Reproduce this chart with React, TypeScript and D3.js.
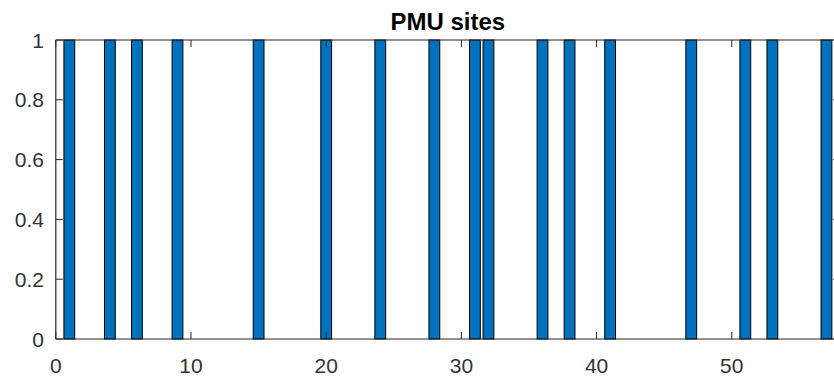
import React from "react";
import * as d3 from "d3";

const pmuBuses: number[] = [1, 4, 6, 9, 15, 20, 24, 28, 31, 32, 36, 38, 41, 47, 51, 53, 57];
const pmuValues: number[] = [1, 1, 1, 1, 1, 1, 1, 1, 1, 1, 1, 1, 1, 1, 1, 1, 1];
const xTicks: number[] = [0, 10, 20, 30, 40, 50];
const yTicks: number[] = [0, 0.2, 0.4, 0.6, 0.8, 1];
const yTickLabels: string[] = ["0", "0.2", "0.4", "0.6", "0.8", "1"];
const title = "PMU sites";

const W = 834;
const H = 378;
const left = 55.8;
const right = 55.8 + 58 * 13.52;
const top = 40;
const bottom = 339;

export default function App() {
  const x = d3.scaleLinear().domain([0, 58]).range([left, right]);
  const y = d3.scaleLinear().domain([0, 1]).range([bottom, top]);
  const bw = (x(1) - x(0)) * 0.8;
  const tickLen = 7;
  const axisColor = "#262626";
  const labelColor = "#333333";
  const font = "'Liberation Sans', Arial, Helvetica, sans-serif";
  return (
    <svg
      width={W}
      height={H}
      style={{ position: "absolute", left: 0, top: 0, background: "#fff" }}
      fontFamily={font}
    >
      <defs>
        <clipPath id="plot">
          <rect x={left} y={top - 1} width={right - left} height={bottom - top + 2} />
        </clipPath>
      </defs>
      <g clipPath="url(#plot)">
        {pmuBuses.map((b, i) => (
          <rect
            key={b}
            x={x(b) - bw / 2}
            y={y(pmuValues[i])}
            width={bw}
            height={y(0) - y(pmuValues[i])}
            fill="#0072BD"
            stroke="#000"
            strokeWidth={1}
          />
        ))}
      </g>
      <line x1={left} x2={left} y1={top} y2={bottom} stroke={axisColor} strokeWidth={1.2} />
      <line x1={left} x2={right} y1={bottom} y2={bottom} stroke={axisColor} strokeWidth={1.2} />
      <line x1={left} x2={right} y1={top} y2={top} stroke={axisColor} strokeWidth={1.2} />
      <line x1={right} x2={right} y1={top} y2={bottom} stroke={axisColor} strokeWidth={1.2} />
      {xTicks.map((t) => (
        <g key={"x" + t}>
          <line x1={x(t)} x2={x(t)} y1={bottom} y2={bottom - tickLen} stroke={axisColor} strokeWidth={1} />
          <line x1={x(t)} x2={x(t)} y1={top} y2={top + tickLen} stroke={axisColor} strokeWidth={1} />
          <text x={x(t)} y={373} textAnchor="middle" fontSize={21} fill={labelColor}>
            {t}
          </text>
        </g>
      ))}
      {yTicks.map((t, i) => (
        <g key={"y" + t}>
          <line x1={left} x2={left + tickLen} y1={y(t)} y2={y(t)} stroke={axisColor} strokeWidth={1} />
          <line x1={right} x2={right - tickLen} y1={y(t)} y2={y(t)} stroke={axisColor} strokeWidth={1} />
          <text x={44} y={y(t) + 7.5} textAnchor="end" fontSize={21} fill={labelColor}>
            {yTickLabels[i]}
          </text>
        </g>
      ))}
      <text
        x={(left + right) / 2}
        y={29.5}
        textAnchor="middle"
        fontSize={24}
        fontWeight="bold"
        fill="#000"
      >
        {title}
      </text>
    </svg>
  );
}
